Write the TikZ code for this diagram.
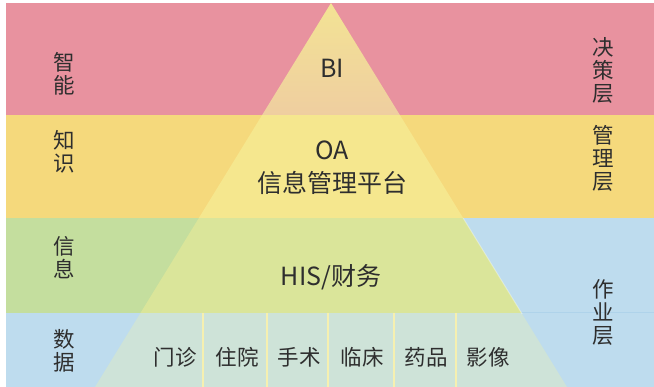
\documentclass[tikz,border=0pt]{standalone}
\usepackage{fontspec}
\usetikzlibrary{calc}
\setmainfont{Noto Sans CJK SC}
\definecolor{cpink}{HTML}{E8929F}
\definecolor{cyellow}{HTML}{F5D97C}
\definecolor{cgreen}{HTML}{C4DE9E}
\definecolor{cblue}{HTML}{BEDCEE}
\definecolor{tpinktop}{HTML}{F3E394}
\definecolor{tpinkbot}{HTML}{EFCEA0}
\definecolor{tyellow}{HTML}{F5E78E}
\definecolor{tgreen}{HTML}{DAE59A}
\definecolor{tblue}{HTML}{CEE3D8}
\definecolor{cdiv}{HTML}{F6F0B0}
\definecolor{cline}{HTML}{AFD3EA}
\definecolor{ctext}{HTML}{2E2E2E}
\tikzset{
  side/.style={text=ctext, font=\fontsize{21.5}{23}\selectfont, align=center, inner sep=0pt},
  mid/.style={text=ctext, font=\fontsize{25}{33}\selectfont, align=center, inner sep=0pt},
  cell/.style={text=ctext, font=\fontsize{21.5}{23}\selectfont, inner sep=0pt},
  divider/.style={draw=cdiv, line width=2pt}
}
\begin{document}
\begin{tikzpicture}[x=1pt,y=-1pt]
\useasboundingbox (0,0) rectangle (654,387);
% bands
\fill[cpink] (6,3) rectangle (654,115);
\fill[cyellow] (6,115) rectangle (654,218);
\fill[cblue] (6,218) rectangle (654,387);
\fill[cgreen] (6,218) rectangle (331,313);
\draw[cline, line width=1pt] (331,313) -- (654,313);
% pyramid
\coordinate (apex) at (331,3);
\coordinate (bl) at (95,387);
\coordinate (br) at (567,387);
\begin{scope}
  \clip (apex) -- (br) -- (bl) -- cycle;
  \shade[top color=tpinktop, bottom color=tpinkbot] (0,3) rectangle (654,115);
  \fill[tyellow] (0,115) rectangle (654,218);
  \fill[tgreen] (0,218) rectangle (654,313);
  \fill[tblue] (0,313) rectangle (654,387);
\end{scope}
\draw[white, opacity=0.35, line width=1pt] ($(apex)!0.56!(br)$) -- ($(apex)!0.81!(br)$);
% dividers
\foreach \x/\n in {203/a,267/b,328/c,394/d,456/e}{
  \coordinate (t\n) at (\x,313);
  \coordinate (b\n) at (\x,387);
  \draw[divider] (t\n) -- (b\n);
}
% side labels
\node[side] (zn) at (64,74) {智\\能};
\node[side] (zs) at (64,152) {知\\识};
\node[side] (xx) at (64,258) {信\\息};
\node[side] (sj) at (64,351) {数\\据};
\node[side] (jc) at (603,70) {决\\策\\层};
\node[side] (gl) at (603,158) {管\\理\\层};
\node[side] (zy) at (603,312) {作\\业\\层};
% middle labels
\node[mid] (bi) at (332,68) {BI};
\node[mid] (oa) at (332,168) {OA\\信息管理平台};
\node[mid] (his) at (331,277) {HIS/财务};
% bottom cells
\node[cell] (mz) at (175,357) {门诊};
\node[cell] (zyy) at (237,357) {住院};
\node[cell] (ss) at (299,357) {手术};
\node[cell] (lc) at (362,357) {临床};
\node[cell] (yp) at (426,357) {药品};
\node[cell] (yx) at (488,357) {影像};
\end{tikzpicture}
\end{document}
